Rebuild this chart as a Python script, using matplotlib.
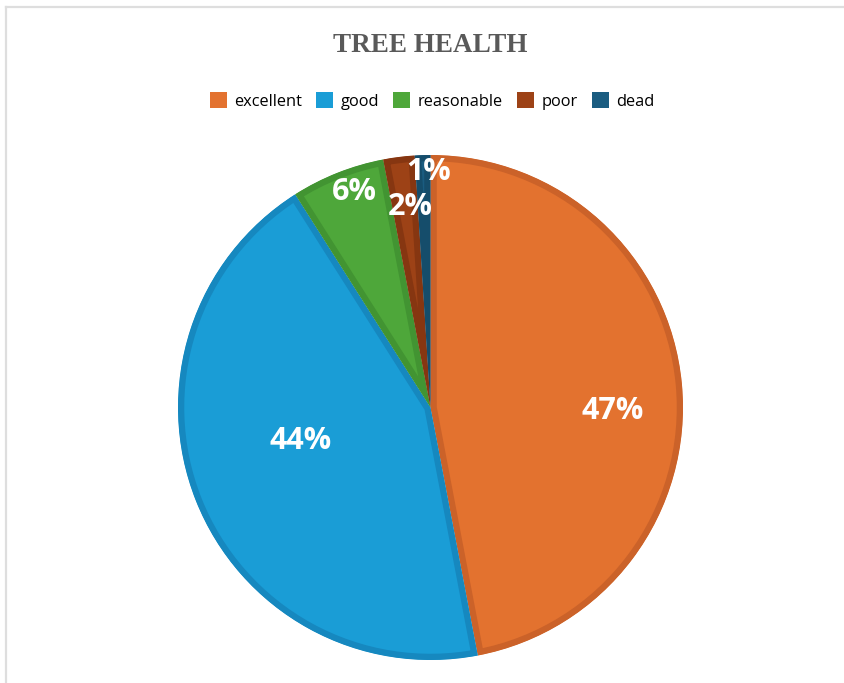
import matplotlib
matplotlib.use("Agg")
import matplotlib.pyplot as plt
from matplotlib.lines import Line2D
from matplotlib.patches import Patch, Wedge

# ---- Data -------------------------------------------------------------------
categories = ["excellent", "good", "reasonable", "poor", "dead"]
shares = [47, 44, 6, 2, 1]
fill_colors = ["#E3722F", "#1A9DD6", "#4EA73A", "#9D4216", "#1A5C80"]
edge_colors = ["#CB6229", "#1688BF", "#429432", "#863611", "#154D6B"]

# label anchor points in pie units (radius = 1)
label_xy = [(0.722, -0.012), (-0.516, -0.131), (-0.302, 0.853),
            (-0.079, 0.794), (-0.008, 0.933)]

W, H = 845, 683
fig = plt.figure(figsize=(W / 100, H / 100), dpi=100)
fig.patch.set_facecolor("white")

# thin grey frame along top and left edges
fig.add_artist(Line2D([6 / W, 1], [1 - 7 / H, 1 - 7 / H], transform=fig.transFigure,
                      color="#DEDEDE", lw=1.6))
fig.add_artist(Line2D([6 / W, 6 / W], [0, 1 - 7 / H], transform=fig.transFigure,
                      color="#DEDEDE", lw=1.6))

# ---- Pie --------------------------------------------------------------------
cx, cy, r = 430.5, 407.5, 252.5
ax = fig.add_axes([(cx - r) / W, (H - cy - r) / H, 2 * r / W, 2 * r / H])
wedges, _ = ax.pie(shares, colors=fill_colors, startangle=90, counterclock=False,
                   wedgeprops=dict(linewidth=9))
ax.set_xlim(-1, 1)
ax.set_ylim(-1, 1)
ax.set_aspect("equal")

for w, ec in zip(wedges, edge_colors):
    w.set_edgecolor(ec)
    # clip each slice to its own outline so the stroke sits inside
    clip = Wedge(w.center, w.r, w.theta1, w.theta2, transform=ax.transData)
    w.set_clip_on(True)
    w.set_clip_path(clip)

for (x, y), v in zip(label_xy, shares):
    ax.text(x, y, f"{v}%", ha="center", va="center", color="white",
            fontsize=22, fontweight="bold", family="Open Sans")

# ---- Title & legend ---------------------------------------------------------
fig.text(430 / W, 1 - 45 / H, "TREE HEALTH", ha="center", va="center",
         color="#595959", fontsize=19.5, fontweight="bold", family="Liberation Serif")

handles = [Patch(facecolor=c, edgecolor="none") for c in fill_colors]
fig.legend(handles, categories, loc="center", bbox_to_anchor=(432 / W, 1 - 101 / H),
           ncol=5, frameon=False, handlelength=1.05, handleheight=1.05,
           handletextpad=0.45, columnspacing=0.85, borderaxespad=0,
           prop={"family": "Open Sans", "size": 11.8})

fig.savefig("out.png", dpi=100, facecolor="white")
